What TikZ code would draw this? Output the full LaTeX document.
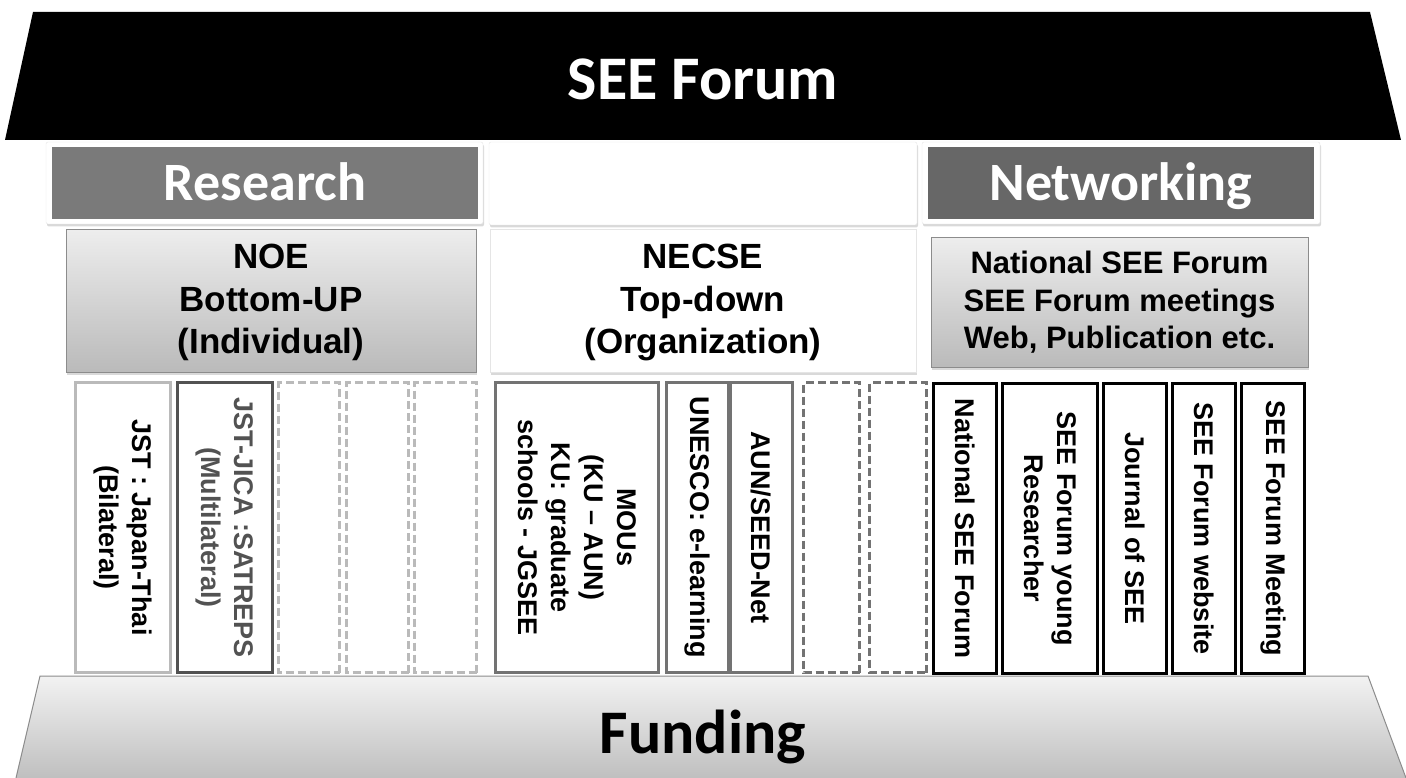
\documentclass[tikz,border=0pt]{standalone}
\usepackage{fontspec}
\setmainfont{Liberation Sans}
\newfontfamily\calibri{Carlito}
\usetikzlibrary{shadows}
\definecolor{resgray}{HTML}{7A7A7A}
\definecolor{netgray}{HTML}{676767}

\begin{document}
\begin{tikzpicture}[x=1pt,y=-1pt,
    softshadow/.style={drop shadow={opacity=0.3,shadow xshift=1pt,shadow yshift=-2.5pt}},
    head/.style={font=\calibri\bfseries\fontsize{54}{60}\selectfont,text=white,text height=35pt,text depth=0pt,inner sep=0pt,minimum height=72pt},
    outerbox/.style={draw=black!10,fill=white,rounded corners=2pt,softshadow,inner sep=0pt,minimum height=82pt},
    tierbox/.style={draw=black!45,line width=1pt,softshadow,align=center,inner sep=0pt,font=\bfseries\fontsize{35}{42.5}\selectfont},
    shadedbox/.style={tierbox,top color=black!7,bottom color=black!27},
    col/.style={rotate=-90,minimum width=290pt,inner sep=0pt,align=center,font=\bfseries\fontsize{27}{33}\selectfont,fill=white},
    palecol/.style={col,draw=black!27,line width=3pt},
    greycol/.style={col,draw=black!55,line width=3pt},
    darkcol/.style={col,draw=black,line width=3.6pt},
    emptycol/.style={col,dashed,dash pattern=on 8pt off 4pt,line width=2.6pt}]
  \useasboundingbox (0,0) rectangle (1406,778);

  \fill (33,12) -- (1370,12) -- (1401,140) -- (5,140) -- cycle;
  \node[font=\calibri\bfseries\fontsize{62}{70}\selectfont,text=white,text height=40pt,text depth=0pt,inner sep=0pt] (forum) at (703,80) {SEE Forum};

  \node[outerbox,minimum width=437pt] (resout) at (264.5,183) {};
  \node[head,fill=resgray,minimum width=426pt] (research) at (265,183) {Research};
  \node[outerbox,minimum width=428pt,minimum height=83pt] (mid) at (703,183.5) {};
  \node[outerbox,minimum width=398pt] (netout) at (1121,183) {};
  \node[head,fill=netgray,minimum width=386pt] (networking) at (1121,183) {Networking};

  \node[shadedbox,minimum width=410pt,minimum height=142pt,text depth=4pt] (noe) at (271,301) {NOE\\Bottom-UP\\(Individual)};
  \node[tierbox,draw=black!10,fill=white,minimum width=426pt,minimum height=142pt,text depth=4pt] (necse) at (703,301) {NECSE\\Top-down\\(Organization)};
  \node[shadedbox,minimum width=377pt,minimum height=129pt,font=\bfseries\fontsize{31}{37.5}\selectfont] (national) at (1119.5,302.5) {National SEE Forum\\SEE Forum meetings\\Web, Publication etc.};

  \node[palecol,minimum height=95pt] (jst) at (123,527.5) {JST : Japan-Thai\\(Bilateral)};
  \node[greycol,draw=black!68,text=black!68,minimum height=95pt] (satreps) at (225,527.5) {JST-JICA :SATREPS\\(Multilateral)};
  \node[emptycol,draw=black!27,minimum height=61pt] (rfree1) at (309,527.5) {};
  \node[emptycol,draw=black!27,minimum height=62pt] (rfree2) at (377.5,527.5) {};
  \node[emptycol,draw=black!27,minimum height=62pt] (rfree3) at (445.5,527.5) {};

  \node[greycol,minimum height=163pt] (mous) at (577,527.5) {MOUs\\(KU -- AUN)\\KU: graduate\\schools - JGSEE};
  \node[greycol,minimum height=62pt] (unesco) at (697.5,527.5) {UNESCO: e-learning};
  \node[greycol,minimum height=62pt] (seednet) at (761.5,527.5) {AUN/SEED-Net};
  \node[emptycol,draw=black!55,minimum height=56pt] (ofree1) at (831.5,527.5) {};
  \node[emptycol,draw=black!55,minimum height=57pt] (ofree2) at (898,527.5) {};

  \node[darkcol,minimum height=63pt] (natforum) at (965,528.5) {National SEE Forum};
  \node[darkcol,minimum height=95pt] (young) at (1050,528.5) {SEE Forum young\\Researcher};
  \node[darkcol,minimum height=63pt] (journal) at (1135,528.5) {Journal of SEE};
  \node[darkcol,minimum height=63pt] (website) at (1204,528.5) {SEE Forum website};
  \node[darkcol,minimum height=63pt] (meeting) at (1273,528.5) {SEE Forum Meeting};

  \shade[top color=black!5,bottom color=black!25] (40,676) -- (1368,676) -- (1406,778) -- (16,778) -- cycle;
  \draw[black!45,line width=1pt] (16,778) -- (40,676) -- (1368,676) -- (1406,778);
  \node[font=\calibri\bfseries\fontsize{62}{70}\selectfont,text height=40pt,text depth=0pt,inner sep=0pt] (funding) at (703,733) {Funding};
\end{tikzpicture}
\end{document}
